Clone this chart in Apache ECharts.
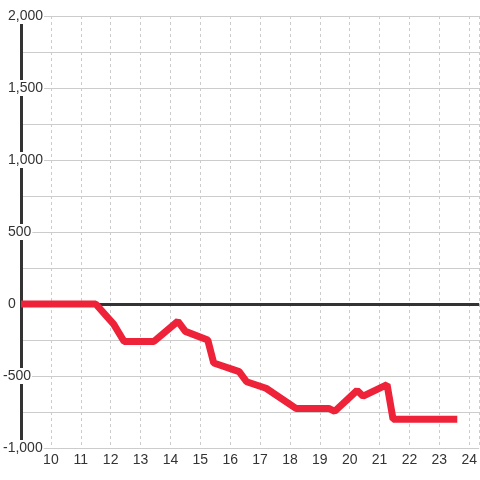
<!DOCTYPE html>
<html>
<head>
<meta charset="utf-8">
<script src="https://cdn.jsdelivr.net/npm/echarts@6/dist/echarts.min.js"></script>
<style>
    html, body {
        margin: 0;
        padding: 0;
        background: #fff;
    }
    #chart {
        width: 480px;
        height: 480px;
    }
</style>
</head>
<body>
<div id="chart"></div>
<script>
// 数据点 [小时, 数值]
let hours = [9, 11.5, 12.1, 12.45, 13.45, 14.25, 14.5, 15.25, 15.45, 16.3, 16.55, 17.2, 18.2, 19.3, 19.5, 20.25, 20.45, 21.25, 21.45, 23.6];
let values = [0, 0, -140, -260, -260, -120, -190, -250, -410, -470, -540, -585, -725, -725, -745, -600, -640, -560, -800, -800];
let yTicks = [-1000, -500, 0, 500, 1000, 1500, 2000];

let chartShell = document.getElementById("chart");
let myChart = echarts.init(chartShell);

let lineData = hours.map(function (h, i) {
    return [h, values[i]];
});

let option = {
    animation: false,
    grid: {
        left: 20,
        right: 0,
        top: 16,
        bottom: 32,
        containLabel: false,
    },
    xAxis: {
        type: "value",
        min: 9,
        max: 24.333,
        interval: 1,
        axisLine: {
            show: false,
        },
        axisTick: {
            show: false,
        },
        minorSplitLine: {
            show: false,
        },
        axisLabel: {
            showMinLabel: false,
            showMaxLabel: false,
            margin: 5,
            color: "#333",
            fontSize: 14,
            fontFamily: "Liberation Sans, Arial, sans-serif",
        },
        splitLine: {
            show: true,
            lineStyle: {
                color: "#ccc",
                type: [3, 3],
            },
        },
    },
    yAxis: {
        type: "value",
        min: yTicks[0],
        max: yTicks[yTicks.length - 1],
        interval: 500,
        axisLine: {
            show: true,
            lineStyle: {
                color: "#333",
                width: 3,
            },
        },
        axisTick: {
            show: false,
        },
        minorTick: {
            show: false,
            splitNumber: 2,
        },
        minorSplitLine: {
            show: true,
            lineStyle: {
                color: "#ccc",
            },
        },
        splitLine: {
            show: true,
            lineStyle: {
                color: "#ccc",
            },
        },
        axisLabel: {
            align: "left",
            margin: 18,
            color: "#333",
            fontSize: 14,
            fontFamily: "Liberation Sans, Arial, sans-serif",
            backgroundColor: "#fff",
            padding: [1, 1, 1, 0],
            formatter: function (value) {
                let text = value.toLocaleString("en-US");
                //正数左边留出负号宽度
                return value < 0 ? text : "{s|}" + text;
            },
            rich: {
                s: {
                    width: 5,
                },
            },
        },
    },
    series: [
        {
            // 零线
            type: "line",
            data: [[9, 0]],
            showSymbol: false,
            symbol: "none",
            lineStyle: {
                width: 0,
            },
            silent: true,
            z: 1,
            markLine: {
                silent: true,
                symbol: "none",
                z: 1,
                label: {
                    show: false,
                },
                lineStyle: {
                    color: "#333",
                    width: 3,
                    type: "solid",
                },
                data: [{ yAxis: 0 }],
            },
        },
        {
            type: "line",
            data: lineData,
            showSymbol: false,
            symbol: "none",
            z: 3,
            lineStyle: {
                color: "#ee2238",
                width: 7,
            },
        },
    ],
};

myChart.setOption(option);
window.addEventListener("resize", function () {
    myChart.resize();
});
</script>
</body>
</html>
